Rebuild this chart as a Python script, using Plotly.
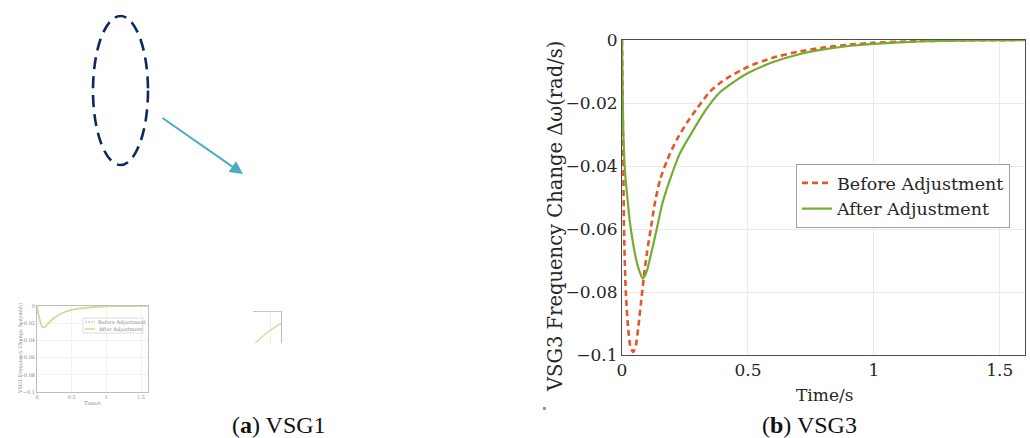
import plotly.graph_objects as go

# ---------------- data ----------------
# VSG3 (panel b) frequency change, before adjustment
t_before = [0, 0.004, 0.008, 0.015, 0.025, 0.035, 0.045, 0.055, 0.065, 0.078, 0.09, 0.1, 0.114,
            0.13, 0.151, 0.18, 0.217, 0.26, 0.3, 0.349, 0.4, 0.5, 0.6, 0.7, 0.8, 0.9, 1.0, 1.2, 1.4, 1.6]
v_before = [0, -0.03, -0.060, -0.080, -0.092, -0.098, -0.099, -0.097, -0.091, -0.0815, -0.073, -0.067,
            -0.060, -0.052, -0.0444, -0.038, -0.0317, -0.026, -0.0215, -0.0164, -0.0130, -0.0085,
            -0.0056, -0.0037, -0.0024, -0.0015, -0.0009, -0.0003, -0.0001, 0]
# VSG3 (panel b) frequency change, after adjustment
t_after = [0, 0.005, 0.012, 0.021, 0.03, 0.045, 0.06, 0.072, 0.082, 0.09, 0.1, 0.115, 0.138, 0.16,
           0.19, 0.23, 0.283, 0.33, 0.385, 0.45, 0.5, 0.6, 0.7, 0.8, 0.9, 1.0, 1.2, 1.4, 1.6]
v_after = [0, -0.0286, -0.042, -0.0497, -0.057, -0.065, -0.071, -0.074, -0.0757, -0.075, -0.073,
           -0.068, -0.060, -0.052, -0.0444, -0.036, -0.0286, -0.0225, -0.0169, -0.0130, -0.0105,
           -0.0070, -0.0046, -0.0030, -0.0019, -0.0012, -0.0004, -0.0001, 0]

# VSG1 (panel a, small thumbnail)
t_vsg1 = [0, 0.02, 0.05, 0.07, 0.09, 0.11, 0.14, 0.2, 0.3, 0.4, 0.5, 0.6, 0.8, 1.0, 1.2, 1.6]
v_vsg1_before = [0, -0.010, -0.020, -0.024, -0.0255, -0.0250, -0.0225, -0.017, -0.011, -0.007,
                 -0.0045, -0.003, -0.0013, -0.0005, -0.0002, 0]
v_vsg1_after = [0, -0.009, -0.019, -0.0235, -0.0250, -0.0247, -0.0222, -0.017, -0.011, -0.007,
                -0.0045, -0.003, -0.0013, -0.0005, -0.0002, 0]

x_ticks = [0, 0.5, 1, 1.5]
x_ticktext = ["0", "0.5", "1", "1.5"]
y_ticks = [0, -0.02, -0.04, -0.06, -0.08, -0.1]
y_ticktext = ["0", "\u22120.02", "\u22120.04", "\u22120.06", "\u22120.08", "\u22120.1"]

series_names = ["Before Adjustment", "After Adjustment"]

# ---------------- layout helpers ----------------
W, H = 1030, 438
def px(x):
    return x / W
def py(y):
    return 1 - y / H

ORANGE = "#E0592A"
GREEN = "#77AC30"
S_ORANGE = "#E9A27E"
S_GREEN = "#C9DC97"
FONT = "DejaVu Serif"
TXT = "#262626"
GRID = "#EBEBEB"
AXL = "#4D4D4D"

fig = go.Figure()

# main chart (b)
fig.add_trace(go.Scatter(x=t_before, y=v_before, mode="lines", name=series_names[0],
                         line=dict(color=ORANGE, width=2.6, dash="6px,4px", shape="spline", smoothing=0.6),
                         xaxis="x", yaxis="y"))
fig.add_trace(go.Scatter(x=t_after, y=v_after, mode="lines", name=series_names[1],
                         line=dict(color=GREEN, width=2.2, shape="spline", smoothing=0.6),
                         xaxis="x", yaxis="y"))

# small thumbnail chart (a)
fig.add_trace(go.Scatter(x=t_vsg1, y=v_vsg1_before, mode="lines", name=series_names[0], showlegend=False,
                         line=dict(color=S_ORANGE, width=1, dash="3px,2px", shape="spline", smoothing=0.6),
                         xaxis="x2", yaxis="y2"))
fig.add_trace(go.Scatter(x=t_vsg1, y=v_vsg1_after, mode="lines", name=series_names[1], showlegend=False,
                         line=dict(color=S_GREEN, width=1.6, shape="spline", smoothing=0.6),
                         xaxis="x2", yaxis="y2"))

# tiny fragment inset
fig.add_trace(go.Scatter(x=t_vsg1, y=v_vsg1_after, mode="lines", showlegend=False,
                         line=dict(color="#DCD7A8", width=1.4, shape="spline", smoothing=0.6),
                         xaxis="x3", yaxis="y3"))

common = dict(automargin=False, zeroline=False, ticks="")
main_x = dict(domain=[px(622), px(1025)], range=[0, 1.6], tickvals=x_ticks, ticktext=x_ticktext,
              showgrid=True, gridcolor=GRID, gridwidth=1, showline=True,
              linecolor=AXL, linewidth=1, mirror=True,
              tickfont=dict(family=FONT, size=17, color=TXT), anchor="y", **common)
main_y = dict(domain=[py(355), py(40)], range=[-0.1, 0], tickvals=y_ticks, ticktext=y_ticktext,
              showgrid=True, gridcolor=GRID, gridwidth=1, showline=True,
              linecolor=AXL, linewidth=1, mirror=True,
              tickfont=dict(family=FONT, size=17, color=TXT), anchor="x", **common)

small_font = dict(family=FONT, size=5, color="#8A8A8A")
small_x = dict(domain=[px(37), px(148)], range=[0, 1.6], tickvals=x_ticks, ticktext=x_ticktext,
               showgrid=True, gridcolor="#F2F2F2", showline=True,
               linecolor="#BDBDBD", linewidth=1, mirror=True, tickfont=small_font,
               anchor="y2", **common)
small_y = dict(domain=[py(392), py(306)], range=[-0.1, 0], tickvals=y_ticks, ticktext=y_ticktext,
               showgrid=True, gridcolor="#F2F2F2", showline=True,
               linecolor="#BDBDBD", linewidth=1, mirror=True, tickfont=small_font,
               anchor="x2", **common)

frag_x = dict(domain=[px(253), px(281)], range=[0.2, 0.36], tickvals=[0.3], showticklabels=False,
              showgrid=True, gridcolor="#EDEDED", showline=True, linecolor="#C8C8C8",
              side="top", anchor="y3", **common)
frag_y = dict(domain=[py(343), py(312)], range=[-0.016, -0.004], tickvals=[-0.004],
              showticklabels=False, showgrid=True, gridcolor="#E6E6E6",
              showline=True, linecolor="#BBBBBB", side="right", anchor="x3", **common)

fig.update_layout(
    width=W, height=H, margin=dict(l=0, r=0, t=0, b=0, autoexpand=False),
    paper_bgcolor="white", plot_bgcolor="white",
    xaxis=main_x, yaxis=main_y, xaxis2=small_x, yaxis2=small_y, xaxis3=frag_x, yaxis3=frag_y,
    legend=dict(x=px(796), y=py(164), xanchor="left", yanchor="top",
                bgcolor="white", bordercolor="#A0A0A0", borderwidth=1,
                font=dict(family=FONT, size=17.5, color=TXT), tracegroupgap=0,
                itemwidth=30),
    showlegend=True,
)

def note(text, x, y, font, angle=0, xanchor="center"):
    return dict(text=text, x=px(x), y=py(y), xref="paper", yref="paper", showarrow=False,
                xanchor=xanchor, yanchor="middle", textangle=angle, font=font)

annotations = [
    # main axis titles
    note("VSG3 Frequency Change \u0394\u03c9(rad/s)", 555, 217, dict(family=FONT, size=19.5, color=TXT), -90),
    note("Time/s", 824, 395, dict(family=FONT, size=17, color=TXT)),
    # small axis titles
    note("VSG1 Frequency Change \u0394\u03c9(rad/s)", 20, 349, small_font, -90),
    note("Time/s", 92, 403, small_font),
    # small legend texts
    note(series_names[0], 96, 322, small_font, xanchor="left"),
    note(series_names[1], 96, 329, small_font, xanchor="left"),
    # captions
    note("(<b>a</b>) VSG1", 279, 425, dict(family="Liberation Serif", size=24, color="#111111")),
    note("(<b>b</b>) VSG3", 809, 425, dict(family="Liberation Serif", size=24, color="#111111")),
    # arrow
    dict(text="", x=px(243), y=py(174), ax=161 - 243, ay=117 - 174, xref="paper", yref="paper",
         axref="pixel", ayref="pixel", showarrow=True, arrowhead=2, arrowsize=1.3,
         arrowwidth=2, arrowcolor="#4BACC6"),
]
fig.update_layout(annotations=annotations)

fig.update_layout(shapes=[
    dict(type="circle", xref="paper", yref="paper", x0=px(93), x1=px(148), y0=py(165), y1=py(16),
         line=dict(color="#0E2A5C", width=2.6, dash="12px,7px")),
    dict(type="rect", xref="paper", yref="paper", x0=px(543), x1=px(546), y0=py(410), y1=py(407),
         line=dict(width=0), fillcolor="#9A9A9A"),
    # small legend box and samples
    dict(type="rect", xref="paper", yref="paper", x0=px(83), x1=px(143), y0=py(333), y1=py(318),
         line=dict(color="#CFCFCF", width=0.7), fillcolor="white"),
    dict(type="line", xref="paper", yref="paper", x0=px(85), x1=px(95), y0=py(322), y1=py(322),
         line=dict(color=S_ORANGE, width=1, dash="2px,1px")),
    dict(type="line", xref="paper", yref="paper", x0=px(85), x1=px(95), y0=py(329), y1=py(329),
         line=dict(color=S_GREEN, width=1.5)),
])

fig.write_html("out.html", config={"displayModeBar": False},
               post_script="document.body.style.margin='0';document.body.style.padding='0';"
                           "document.body.style.overflow='hidden';")
